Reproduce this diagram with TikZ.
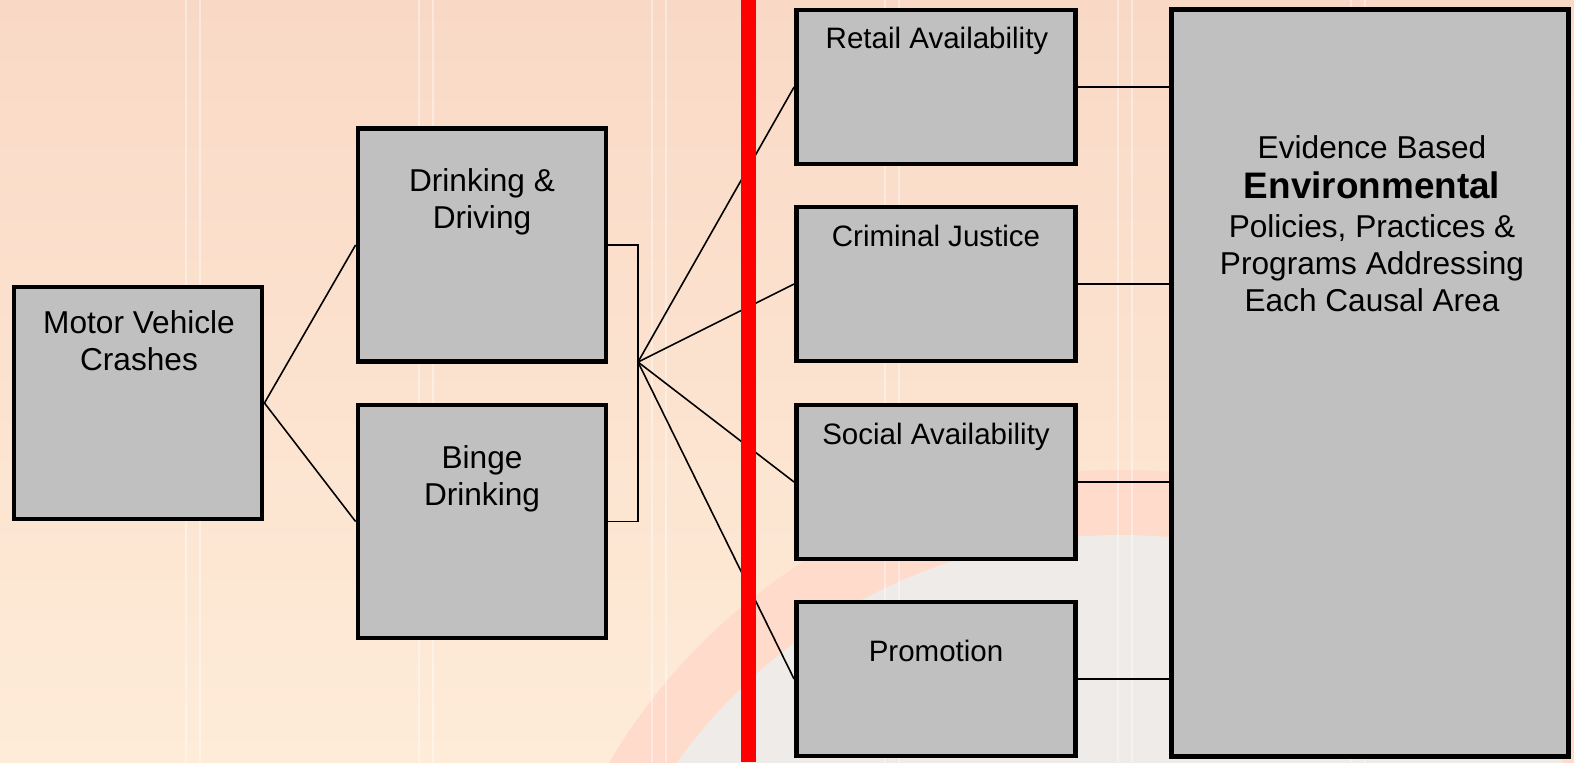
\documentclass[tikz,border=0pt]{standalone}
\usepackage{fontspec}
\setmainfont{Liberation Sans}
\usetikzlibrary{positioning}

\definecolor{bgtop}{RGB}{249,217,198}
\definecolor{bgbottom}{RGB}{254,236,216}
\definecolor{ringpink}{RGB}{255,219,204}
\definecolor{discgray}{RGB}{239,235,232}
\definecolor{boxgray}{RGB}{192,192,192}
\definecolor{divider}{RGB}{255,0,0}

\tikzset{
  box/.style={draw=black, line width=2.8pt, fill=boxgray, inner sep=0pt},
  rootbox/.style={box, minimum width=4.96cm, minimum height=4.64cm},
  causebox/.style={box, minimum width=4.96cm, minimum height=4.66cm},
  areabox/.style={box, minimum width=5.58cm, minimum height=3.08cm},
  bigbox/.style={box, minimum width=7.94cm, minimum height=14.94cm},
  boxtext/.style={inner sep=0pt, anchor=north, align=center, font=\fontsize{18}{21}\selectfont},
  areatext/.style={boxtext, font=\fontsize{16.8}{20}\selectfont},
  link/.style={draw=black, line width=0.9pt},
}

\begin{document}
\begin{tikzpicture}[x=0.02cm, y=-0.02cm]
    % background of the slide
    \begin{scope}
        \clip (0,0) rectangle (1574,762);
        \shade[top color=bgtop, bottom color=bgbottom] (0,0) rectangle (1574,762);
        \fill[ringpink] (1120,1062) circle [radius=592];
        \fill[discgray] (1120,1080) circle [radius=545];
        \foreach \x in {186, 419, 652, 885, 1118, 1351} {
            \draw[white, opacity=0.4, line width=1pt] (\x,0) -- (\x,762);
            \draw[white, opacity=0.4, line width=1pt] (\x+14,0) -- (\x+14,762);
        }
    \end{scope}

    % boxes
    \node[rootbox] (crashes) at (138,403) {};
    \node[causebox] (drivebox) at (482,245) {};
    \node[causebox] (bingebox) at (482,521.5) {};
    \node[areabox] (retail) at (936,87) {};
    \node[areabox] (justice) at (936,284) {};
    \node[areabox] (social) at (936,482) {};
    \node[areabox] (promo) at (936,679) {};
    \node[bigbox] (policies) at (1370,383) {};

    % texts
    \node[boxtext] (crashestext) at (139,310) {Motor Vehicle\\Crashes};
    \node[boxtext] (drivetext) at (482,168) {Drinking \&\\Driving};
    \node[boxtext] (bingetext) at (482,445) {Binge\\Drinking};
    \node[areatext] (retailtext) at (937,27) {Retail Availability};
    \node[areatext] (justicetext) at (936,225) {Criminal Justice};
    \node[areatext] (socialtext) at (936,423) {Social Availability};
    \node[areatext] (promotext) at (936,640) {Promotion};
    \node[boxtext] (policiestext) at (1372,135) {Evidence Based\\[2pt]
        {\bfseries\fontsize{21}{24}\selectfont Environmental}\\[1pt]
        Policies, Practices \&\\Programs Addressing\\Each Causal Area};

    % connectors
    \coordinate (fork) at (638,362);
    \draw[link] (crashes.east) -- (drivebox.west);
    \draw[link] (crashes.east) -- (bingebox.west);
    \draw[link] (drivebox.east) -| (fork) |- (bingebox.east);
    \draw[link] (fork) -- (retail.west);
    \draw[link] (fork) -- (justice.west);
    \draw[link] (fork) -- (social.west);
    \draw[link] (fork) -- (promo.west);
    \draw[link] (retail.east) -- (policies.west |- retail.east);
    \draw[link] (justice.east) -- (policies.west |- justice.east);
    \draw[link] (social.east) -- (policies.west |- social.east);
    \draw[link] (promo.east) -- (policies.west |- promo.east);

    % red divider
    \fill[divider] (741,0) rectangle (756,762);

    \pgfresetboundingbox
    \useasboundingbox (0,0) rectangle (1574,762);
\end{tikzpicture}
\end{document}
